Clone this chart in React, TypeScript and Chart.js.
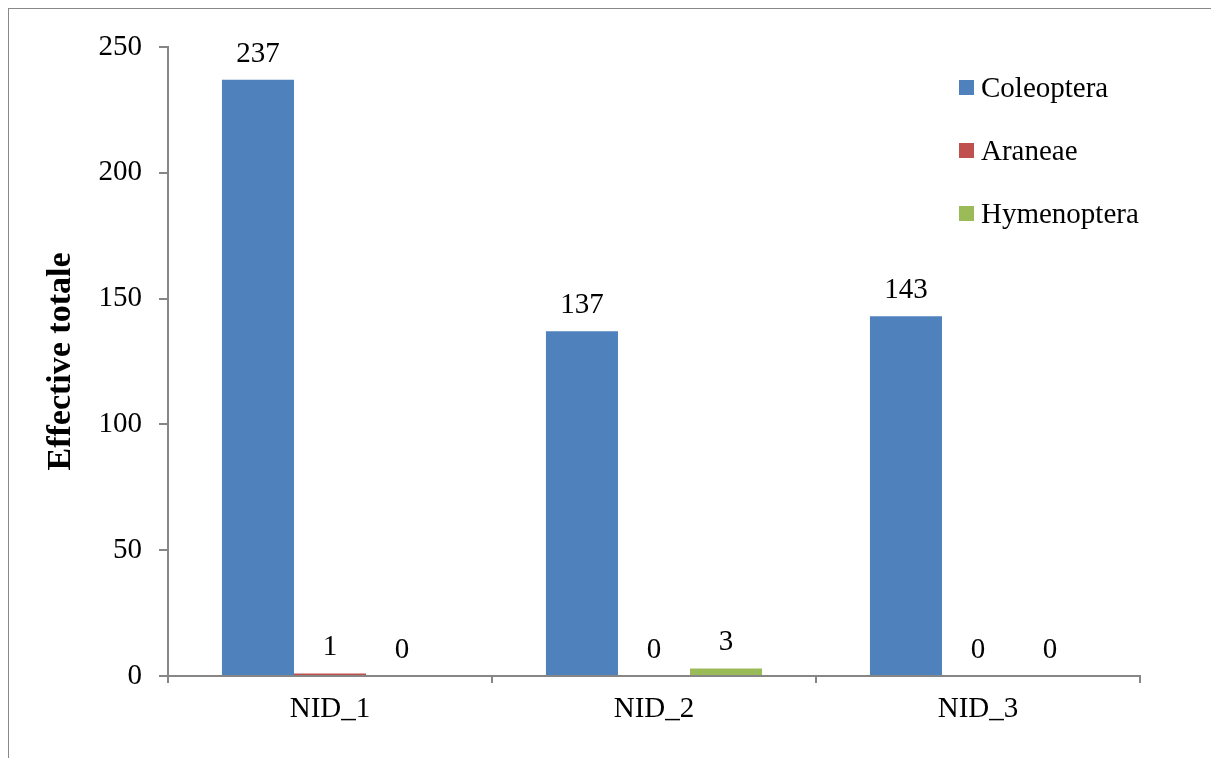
import React, { useEffect, useRef } from "react";
import { Chart, registerables } from "chart.js";

Chart.register(...registerables);

const categories = ["NID_1", "NID_2", "NID_3"];
const seriesNames = ["Coleoptera", "Araneae", "Hymenoptera"];
const coleoptera = [237, 137, 143];
const araneae = [1, 0, 0];
const hymenoptera = [0, 3, 0];
const seriesColors = ["#4F81BD", "#C0504D", "#9BBB59"];
const yTicks = [0, 50, 100, 150, 200, 250];

const FONT = "'Liberation Serif', 'Times New Roman', serif";
const AXIS_COLOR = "#868686";

const valueLabels = {
  id: "valueLabels",
  afterDatasetsDraw(chart: any) {
    const ctx = chart.ctx;
    ctx.save();
    ctx.font = `29px ${FONT}`;
    ctx.fillStyle = "#000";
    ctx.textAlign = "center";
    ctx.textBaseline = "alphabetic";
    chart.data.datasets.forEach((ds: any, di: number) => {
      const meta = chart.getDatasetMeta(di);
      meta.data.forEach((el: any, i: number) => {
        ctx.fillText(String(ds.data[i]), el.x, el.y - 18);
      });
    });
    ctx.restore();
  },
};

const customLegend = {
  id: "customLegend",
  afterDraw(chart: any) {
    const ctx = chart.ctx;
    ctx.save();
    ctx.font = `29px ${FONT}`;
    ctx.textAlign = "left";
    ctx.textBaseline = "middle";
    chart.data.datasets.forEach((ds: any, i: number) => {
      const cy = 78.5 + i * 63;
      ctx.fillStyle = ds.backgroundColor;
      ctx.fillRect(950, cy - 7.5, 15, 15);
      ctx.fillStyle = "#000";
      ctx.fillText(ds.label, 972, cy + 1.5);
    });
    ctx.restore();
  },
};

export default function App() {
  const ref = useRef<HTMLCanvasElement | null>(null);

  useEffect(() => {
    document.documentElement.style.overflow = "hidden";
    if (!ref.current) return;
    const seriesData = [coleoptera, araneae, hymenoptera];
    const chart = new Chart(ref.current, {
      type: "bar",
      data: {
        labels: categories,
        datasets: seriesNames.map((name, i) => ({
          label: name,
          data: seriesData[i],
          backgroundColor: seriesColors[i],
          borderWidth: 0,
          categoryPercentage: 0.667,
          barPercentage: 1.0,
        })),
      },
      options: {
        responsive: false,
        animation: false,
        maintainAspectRatio: false,
        layout: { padding: { top: 38, right: 77, bottom: 0, left: 0 } },
        plugins: {
          legend: { display: false },
          tooltip: { enabled: false },
        },
        scales: {
          x: {
            offset: true,
            grid: {
              offset: true,
              drawOnChartArea: false,
              drawTicks: true,
              tickLength: 7,
              color: AXIS_COLOR,
              lineWidth: 2,
            },
            border: { display: true, color: AXIS_COLOR, width: 2 },
            ticks: {
              color: "#000",
              font: { family: FONT, size: 29 },
              padding: 9,
              maxRotation: 0,
            },
            afterFit(scale: any) {
              scale.height = 73;
            },
          },
          y: {
            min: 0,
            max: 250,
            afterBuildTicks(scale: any) {
              scale.ticks = yTicks.map((v) => ({ value: v }));
            },
            grid: {
              drawOnChartArea: false,
              drawTicks: true,
              tickLength: 9,
              color: AXIS_COLOR,
              lineWidth: 2,
            },
            border: { display: true, color: AXIS_COLOR, width: 2 },
            ticks: {
              color: "#000",
              font: { family: FONT, size: 29 },
              padding: 17,
            },
            title: {
              display: true,
              text: "Effective totale",
              color: "#000",
              font: { family: FONT, size: 34, weight: "bold" },
              padding: { top: 32, bottom: 0 },
            },
            afterFit(scale: any) {
              scale.width = 159;
            },
          },
        },
      },
      plugins: [valueLabels, customLegend],
    });
    return () => chart.destroy();
  }, []);

  return (
    <div
      style={{
        width: 1208,
        height: 760,
        borderTop: "1px solid #888",
        borderLeft: "1px solid #888",
        borderRight: "1px solid #888",
        background: "#fff",
      }}
    >
      <canvas ref={ref} width={1208} height={740} style={{ display: "block" }} />
    </div>
  );
}
